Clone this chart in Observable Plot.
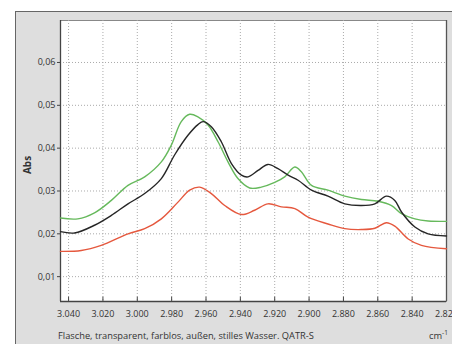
<!DOCTYPE html>
<html>
<head>
<meta charset="utf-8">
<script src="https://cdn.jsdelivr.net/npm/d3@7"></script>
<script src="https://cdn.jsdelivr.net/npm/@observablehq/plot@0.6"></script>
<style>
  html, body { margin: 0; padding: 0; background: #fff; }
  #chart { width: 452px; height: 344px; overflow: hidden; }
</style>
</head>
<body>
<div id="chart"></div>
<script>
const xTicks = [3040, 3020, 3000, 2980, 2960, 2940, 2920, 2900, 2880, 2860, 2840, 2820];
const yTicks = [0.01, 0.02, 0.03, 0.04, 0.05, 0.06];

const greenWn = [3044.7, 3034.6, 3024.9, 3015.1, 3005.4, 2995.7, 2986.0, 2980.2, 2974.4, 2969.5, 2964.7, 2958.8, 2953.0, 2947.2, 2941.4, 2934.6, 2927.8, 2920.0, 2914.2, 2908.3, 2904.5, 2898.6, 2889.0, 2879.2, 2869.5, 2859.8, 2852.0, 2846.2, 2838.4, 2830.7, 2820];
const greenAbs = [0.0237, 0.0235, 0.0249, 0.0278, 0.0313, 0.0333, 0.0368, 0.0407, 0.0462, 0.0479, 0.0473, 0.0454, 0.0415, 0.0368, 0.0329, 0.0307, 0.0309, 0.0320, 0.0333, 0.0356, 0.0345, 0.0313, 0.0302, 0.0288, 0.0280, 0.0276, 0.0266, 0.0247, 0.0235, 0.0230, 0.0229];

const blackWn = [3044.7, 3036.5, 3024.9, 3015.1, 3005.4, 2995.7, 2986.0, 2978.3, 2970.5, 2964.7, 2961.7, 2956.9, 2951.1, 2945.2, 2939.4, 2935.5, 2929.7, 2923.9, 2918.1, 2912.2, 2906.4, 2898.6, 2889.0, 2879.2, 2869.5, 2861.7, 2855.0, 2850.1, 2846.2, 2838.4, 2830.7, 2820];
const blackAbs = [0.0205, 0.0202, 0.0220, 0.0243, 0.0270, 0.0294, 0.0329, 0.0384, 0.0430, 0.0455, 0.0462, 0.0450, 0.0415, 0.0364, 0.0337, 0.0333, 0.0348, 0.0362, 0.0352, 0.0337, 0.0325, 0.0302, 0.0288, 0.0270, 0.0266, 0.0270, 0.0288, 0.0278, 0.0251, 0.0216, 0.0200, 0.0195];

const redWn = [3044.7, 3032.6, 3021.0, 3005.4, 2995.7, 2986.0, 2976.3, 2969.5, 2963.7, 2956.9, 2949.1, 2939.4, 2931.7, 2923.9, 2916.1, 2908.3, 2900.6, 2889.0, 2879.2, 2869.5, 2861.7, 2855.0, 2850.1, 2842.3, 2834.6, 2820];
const redAbs = [0.0159, 0.0161, 0.0173, 0.0200, 0.0212, 0.0235, 0.0274, 0.0302, 0.0309, 0.0294, 0.0266, 0.0245, 0.0255, 0.0270, 0.0263, 0.0259, 0.0239, 0.0223, 0.0212, 0.0210, 0.0213, 0.0226, 0.0218, 0.0188, 0.0173, 0.0165];

const seriesNames = ["grün", "schwarz", "rot"];
const seriesColors = ["#66b95c", "#262626", "#e5583e"];

const rows = [];
[[greenWn, greenAbs], [blackWn, blackAbs], [redWn, redAbs]].forEach(([wn, ab], i) => {
  wn.forEach((w, j) => rows.push({series: seriesNames[i], wn: w, abs: ab[j]}));
});

const fmtX = d => d3.format(",")(d).replace(",", ".");
const fmtY = d => d3.format(".2f")(d).replace(".", ",");
const FONT = "'Open Sans', 'Noto Sans', sans-serif";

const chart = Plot.plot({
  width: 452,
  height: 344,
  marginLeft: 60,
  marginRight: 6,
  marginTop: 20,
  marginBottom: 43,
  style: {fontFamily: FONT, fontSize: "9px", color: "#333", background: "transparent"},
  x: {domain: [3044.7, 2820], ticks: xTicks, tickFormat: fmtX},
  y: {domain: [0.0042, 0.0698], ticks: yTicks, tickFormat: fmtY},
  color: {domain: seriesNames, range: seriesColors},
  marks: [
    Plot.frame({fill: "white", stroke: "#888", strokeWidth: 1}),
    Plot.gridX(xTicks, {stroke: "#aaa", strokeOpacity: 1, strokeDasharray: "1,2"}),
    Plot.gridY(yTicks, {stroke: "#aaa", strokeOpacity: 1, strokeDasharray: "1,2"}),
    Plot.axisY(yTicks, {tickSize: 3, tickPadding: 2, tickFormat: fmtY, label: null, stroke: "#444", fill: "#333"}),
    Plot.axisX(xTicks, {tickSize: 0, tickPadding: 9, tickFormat: fmtX, label: null, fill: "#333"}),
    Plot.ruleX(xTicks, {x: d => d, y1: 0.0042, y2: 0.0052, stroke: "#444"}),
    Plot.ruleX([3044.7], {stroke: "#444", strokeWidth: 1.3}),
    Plot.ruleY([0.0042], {stroke: "#444", strokeWidth: 1.3}),
    Plot.ruleX([2820], {stroke: "#555", strokeWidth: 1.3}),
    Plot.line(rows, {x: "wn", y: "abs", z: "series", stroke: "series", strokeWidth: 1.4, curve: "catmull-rom"})
  ]
});

const svg = d3.select(chart);
// grey panel behind the plot
svg.insert("rect", ":first-child")
  .attr("x", 15.5).attr("y", 11.5).attr("width", 450).attr("height", 340)
  .attr("fill", "#dedede").attr("stroke", "#666").attr("stroke-width", 1);
svg.insert("rect", ":first-child")
  .attr("x", 0).attr("y", 0).attr("width", 452).attr("height", 344).attr("fill", "#fff");

svg.append("text")
  .attr("transform", "translate(31,165) rotate(-90)")
  .attr("text-anchor", "middle")
  .attr("font-family", FONT).attr("font-size", 10).attr("font-weight", "bold")
  .attr("fill", "#333")
  .text("Abs");

svg.append("text")
  .attr("x", 58).attr("y", 339)
  .attr("text-anchor", "start")
  .attr("font-family", FONT).attr("font-size", 9.3)
  .attr("fill", "#333")
  .text("Flasche, transparent, farblos, außen, stilles Wasser. QATR-S");

const unit = svg.append("text")
  .attr("x", 429).attr("y", 339)
  .attr("text-anchor", "start")
  .attr("font-family", FONT).attr("font-size", 9.3)
  .attr("fill", "#333");
unit.append("tspan").text("cm");
unit.append("tspan").attr("dy", -4).attr("font-size", 6.5).text("-1");

document.getElementById("chart").appendChild(chart);
</script>
</body>
</html>
